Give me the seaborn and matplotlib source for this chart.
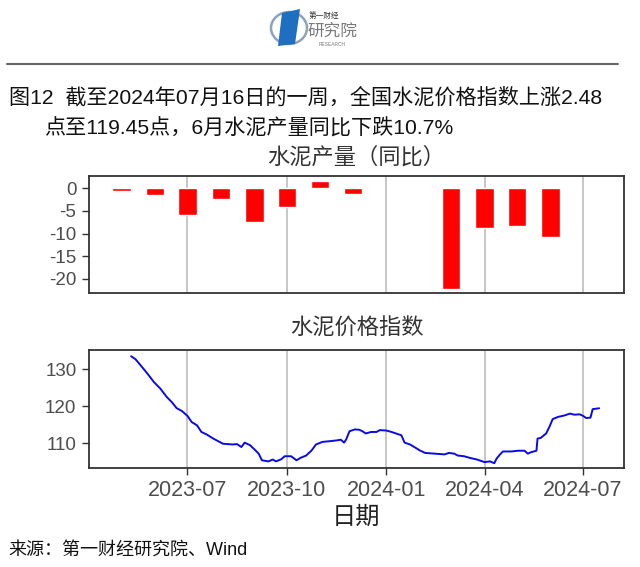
import matplotlib
matplotlib.use("Agg")
import matplotlib.pyplot as plt
import matplotlib.dates as mdates
from matplotlib.patches import Circle, Polygon
from matplotlib.lines import Line2D
import seaborn as sns
import pandas as pd

# ---------------- data ----------------
bar_months = ['2023-05-01', '2023-06-01', '2023-07-01', '2023-08-01', '2023-09-01',
              '2023-10-01', '2023-11-01', '2023-12-01', '2024-03-01', '2024-04-01',
              '2024-05-01', '2024-06-01']
bar_values = [-0.6, -1.5, -5.8, -2.3, -7.4, -4.1, 1.6, -1.2, -22.3, -8.8, -8.3, -10.7]

price_dates = ['2023-05-10', '2023-05-14', '2023-05-20', '2023-05-25', '2023-05-31',
               '2023-06-06', '2023-06-12', '2023-06-17', '2023-06-21', '2023-06-26',
               '2023-07-01', '2023-07-05', '2023-07-10', '2023-07-14', '2023-07-19',
               '2023-07-25', '2023-08-03', '2023-08-12', '2023-08-16', '2023-08-20',
               '2023-08-23', '2023-08-28', '2023-09-02', '2023-09-05', '2023-09-08',
               '2023-09-14', '2023-09-18', '2023-09-21', '2023-09-26', '2023-09-29',
               '2023-10-05', '2023-10-10', '2023-10-14', '2023-10-19', '2023-10-24',
               '2023-10-28', '2023-11-03', '2023-11-10', '2023-11-16', '2023-11-20',
               '2023-11-23', '2023-11-25', '2023-11-28', '2023-12-03', '2023-12-07',
               '2023-12-10', '2023-12-13', '2023-12-18', '2023-12-23', '2023-12-26',
               '2024-01-01', '2024-01-06', '2024-01-10', '2024-01-15', '2024-01-18',
               '2024-01-23', '2024-01-27', '2024-02-01', '2024-02-06', '2024-02-15',
               '2024-02-24', '2024-02-28', '2024-03-04', '2024-03-07', '2024-03-13',
               '2024-03-19', '2024-03-25', '2024-04-01', '2024-04-06', '2024-04-10',
               '2024-04-12', '2024-04-15', '2024-04-18', '2024-04-26', '2024-05-02',
               '2024-05-08', '2024-05-11', '2024-05-14', '2024-05-19', '2024-05-20',
               '2024-05-23', '2024-05-28', '2024-05-31', '2024-06-03', '2024-06-08',
               '2024-06-14', '2024-06-19', '2024-06-23', '2024-06-28', '2024-07-01',
               '2024-07-04', '2024-07-08', '2024-07-10', '2024-07-16']
price_values = [133.6, 132.8, 130.7, 128.9, 126.6, 124.8, 122.5, 121.0, 119.5, 118.7,
                117.4, 115.7, 114.8, 113.0, 112.3, 111.2, 109.8, 109.6, 109.7, 108.9,
                110.1, 109.4, 108.0, 107.1, 105.3, 105.0, 105.5, 105.0, 105.6, 106.4,
                106.4, 105.3, 106.0, 106.6, 108.0, 109.6, 110.3, 110.5, 110.7, 110.9,
                110.1, 111.0, 113.2, 113.7, 113.6, 113.2, 112.6, 113.0, 113.0, 113.5,
                113.4, 113.0, 112.6, 112.1, 110.1, 109.6, 108.9, 108.0, 107.3, 107.1,
                106.9, 107.3, 107.1, 106.6, 106.4, 105.9, 105.5, 104.8, 105.0, 104.5,
                105.7, 106.8, 107.7, 107.7, 107.9, 107.9, 107.1, 107.5, 107.9, 111.2,
                111.4, 112.6, 114.4, 116.5, 117.1, 117.5, 118.0, 117.7, 117.8, 117.4,
                116.8, 116.9, 119.2, 119.45]

x_ticks = ['2023-07-01', '2023-10-01', '2024-01-01', '2024-04-01', '2024-07-01']
y_ticks_top = [0, -5, -10, -15, -20]
y_ticks_bottom = [110, 120, 130]

title_line1 = "图12  截至2024年07月16日的一周，全国水泥价格指数上涨2.48"
title_line2 = "点至119.45点，6月水泥产量同比下跌10.7%"
panel1_title = "水泥产量（同比）"
panel2_title = "水泥价格指数"
x_label = "日期"
source_text = "来源：第一财经研究院、Wind"

# ---------------- style ----------------
sns.set_theme(style="white")
plt.rcParams['font.family'] = ['Liberation Sans', 'Noto Sans CJK SC', 'DejaVu Sans']
plt.rcParams['axes.unicode_minus'] = False

W, H = 640, 567
fig = plt.figure(figsize=(W / 100, H / 100), dpi=100)
fig.patch.set_facecolor('white')


def fx(x):
    return x / W


def fy(y):
    return 1 - y / H


bars_df = pd.DataFrame({'date': pd.to_datetime(bar_months), 'yoy': bar_values})
price_df = pd.DataFrame({'date': pd.to_datetime(price_dates), 'index': price_values})
xt = pd.to_datetime(x_ticks)
xlim = (pd.Timestamp('2023-04-01'), pd.Timestamp('2024-08-08'))

ax1 = fig.add_axes([fx(89), fy(293), fx(624) - fx(89), (293 - 176) / H])
ax2 = fig.add_axes([fx(89), fy(468), fx(624) - fx(89), (468 - 350) / H])

tick_color = '#4D4D4D'
for ax in (ax1, ax2):
    ax.set_facecolor('white')
    for s in ax.spines.values():
        s.set_visible(True)
        s.set_color('#333333')
        s.set_linewidth(1.3)
    ax.grid(False)
    for d in xt:
        ax.axvline(d, color='#BEBEBE', lw=1.2, zorder=0)
    ax.set_xlim(*xlim)
    ax.tick_params(axis='y', which='both', left=True, length=5, width=1,
                   color='#333333', labelsize=13.5, labelcolor=tick_color, pad=4)

# bars
ax1.bar(bars_df['date'], bars_df['yoy'], width=17, color='#FF0000', zorder=2)
ax1.set_ylim(-23.1, 2.7)
ax1.set_yticks(y_ticks_top)
ax1.set_yticklabels([str(v) for v in y_ticks_top])
ax1.set_xticks(xt)
ax1.tick_params(axis='x', bottom=False, labelbottom=False)
ax1.set_xlabel('')
ax1.set_ylabel('')

# line
sns.lineplot(data=price_df, x='date', y='index', ax=ax2, color='#0A0AE6',
             linewidth=1.4, zorder=3)
ax2.set_ylim(103.2, 135.3)
ax2.set_yticks(y_ticks_bottom)
ax2.set_yticklabels([str(v) for v in y_ticks_bottom])
ax2.set_xticks(xt)
ax2.xaxis.set_major_formatter(mdates.DateFormatter('%Y-%m'))
ax2.tick_params(axis='x', bottom=True, length=5, width=1, color='#333333',
                labelsize=15.5, labelcolor=tick_color, pad=4)
ax2.set_xlabel('')
ax2.set_ylabel('')

# titles / texts
fig.text(fx(356.5), fy(158), panel1_title, ha='center', va='center',
         fontsize=16, color='#333333')
fig.text(fx(356.5), fy(329), panel2_title, ha='center', va='center',
         fontsize=16, color='#333333')
fig.text(fx(356.5), fy(518), x_label, ha='center', va='center',
         fontsize=17.5, color='#222222')
fig.text(fx(8), fy(550), source_text, ha='left', va='center',
         fontsize=13, color='#111111')

fig.text(fx(9), fy(97), title_line1, ha='left', va='center',
         fontsize=15.2, color='#111111')
fig.text(fx(44), fy(128), title_line2, ha='left', va='center',
         fontsize=15.2, color='#111111')

# separator line
fig.add_artist(Line2D([fx(7), fx(618)], [fy(64), fy(64)], color='#666666', lw=1.5))

# logo (approximate)
fig.add_artist(Circle((fx(289), fy(28)), 18 / W, transform=fig.transFigure,
                      fill=False, edgecolor='#8FA3B8', lw=1.8))
fig.add_artist(Polygon([(fx(282), fy(13)), (fx(300), fy(9)), (fx(295), fy(44)), (fx(278), fy(46))],
                       closed=True, transform=fig.transFigure,
                       facecolor='#1E6FC0', edgecolor='none'))
fig.text(fx(324), fy(16), "第一财经", ha='center', va='center', fontsize=5.5, color='#333333')
fig.text(fx(332), fy(31), "研究院", ha='center', va='center', fontsize=12, color='#7A7A7A')
fig.text(fx(332), fy(44), "RESEARCH", ha='center', va='center', fontsize=3.5, color='#7A7A7A')

fig.savefig('out.png', dpi=100, facecolor='white')
